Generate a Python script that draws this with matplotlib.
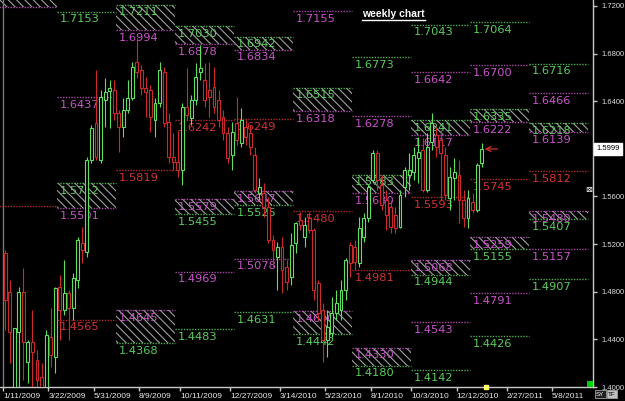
import matplotlib
matplotlib.use("Agg")
import matplotlib.pyplot as plt
from matplotlib.patches import Rectangle
from matplotlib.lines import Line2D

# ---------------- data ----------------
opens = [1.5125,1.4797,1.3932,1.4461,1.4797,1.4209,1.4377,1.4226,1.4083,1.3949,
         1.4419,1.4251,1.4839,1.4646,1.4789,1.4663,1.4898,1.5209,1.5133,1.5906,
         1.6217,1.5906,1.6410,1.6486,1.6494,1.6301,1.6183,1.6326,1.6427,1.6729,
         1.6662,1.6511,1.6494,1.6242,1.6385,1.6645,1.6225,1.5931,1.5889,1.5822,
         1.6351,1.6259,1.6410,1.6645,1.6578,1.6494,1.6519,1.6410,1.6267,1.6133,
         1.5948,1.6217,1.6049,1.6183,1.6133,1.5948,1.5629,1.5629,1.5511,1.5234,
         1.5091,1.5175,1.5007,1.4923,1.5209,1.5402,1.5259,1.5419,1.5318,1.4872,
         1.4646,1.4394,1.4453,1.4621,1.4646,1.4814,1.5192,1.5175,1.5041,1.5259,
         1.5419,1.5738,1.5965,1.5696,1.5570,1.5511,1.5444,1.5343,1.5679,1.5780,
         1.5805,1.5923,1.5990,1.5654,1.6057,1.6116,1.6074,1.5948,1.5587,1.5755,
         1.5780,1.5570,1.5419,1.5553,1.5486,1.5881]
highs = [1.5150,1.4898,1.4495,1.4839,1.4999,1.4394,1.4646,1.4310,1.4201,1.4478,
         1.4663,1.4839,1.4940,1.5066,1.4814,1.4957,1.5259,1.5343,1.5931,1.6200,
         1.6662,1.6494,1.6595,1.6578,1.6578,1.6326,1.6427,1.6578,1.6729,1.6931,
         1.6704,1.6603,1.6536,1.6427,1.6729,1.6687,1.6301,1.6133,1.6158,1.6385,
         1.6679,1.6452,1.6721,1.6872,1.6721,1.6729,1.6687,1.6494,1.6326,1.6183,
         1.6225,1.6435,1.6343,1.6242,1.6200,1.6015,1.5755,1.5713,1.5595,1.5276,
         1.5217,1.5259,1.5066,1.5293,1.5385,1.5469,1.5427,1.5469,1.5335,1.4898,
         1.4705,1.4646,1.4755,1.4814,1.4898,1.5083,1.5217,1.5234,1.5427,1.5461,
         1.5696,1.5990,1.5990,1.5780,1.5654,1.5570,1.5511,1.5654,1.5847,1.5965,
         1.6015,1.6099,1.6091,1.6133,1.6301,1.6183,1.6158,1.6015,1.5847,1.5923,
         1.5906,1.5654,1.5654,1.5629,1.5881,1.6049]
lows = [1.4478,1.4201,1.3848,1.3974,1.4058,1.4033,1.3999,1.3949,1.3890,1.3907,
        1.4167,1.4117,1.4394,1.4604,1.4394,1.4562,1.4831,1.5041,1.5091,1.5881,
        1.5906,1.5881,1.6183,1.6175,1.6242,1.5973,1.6099,1.6301,1.6410,1.6595,
        1.6452,1.6267,1.6141,1.6099,1.6351,1.6183,1.5881,1.5822,1.5763,1.5696,
        1.6242,1.6200,1.6368,1.6578,1.6351,1.6267,1.6301,1.6183,1.6074,1.5881,
        1.5822,1.6032,1.6015,1.6032,1.5948,1.5629,1.5570,1.5427,1.5209,1.5007,
        1.4814,1.4789,1.4814,1.4856,1.5125,1.5318,1.5175,1.5293,1.4730,1.4562,
        1.4209,1.4251,1.4419,1.4562,1.4562,1.4730,1.4923,1.4982,1.5007,1.5217,
        1.5385,1.5713,1.5654,1.5486,1.5318,1.5293,1.5293,1.5335,1.5595,1.5654,
        1.5738,1.5713,1.5637,1.5637,1.5990,1.5931,1.5570,1.5570,1.5486,1.5570,
        1.5377,1.5343,1.5335,1.5461,1.5469,1.5847]
closes = [1.4730,1.4461,1.4495,1.4797,1.4377,1.4377,1.4293,1.4058,1.3974,1.4436,
          1.4268,1.4831,1.4646,1.4789,1.4663,1.4915,1.5234,1.5150,1.5906,1.6175,
          1.5931,1.6435,1.6477,1.6511,1.6301,1.6183,1.6326,1.6427,1.6687,1.6645,
          1.6511,1.6477,1.6267,1.6385,1.6662,1.6217,1.5931,1.5889,1.5822,1.6351,
          1.6284,1.6410,1.6603,1.6679,1.6410,1.6435,1.6351,1.6242,1.6133,1.5923,
          1.6141,1.6074,1.6242,1.6099,1.6015,1.5654,1.5679,1.5511,1.5234,1.5150,
          1.5175,1.4982,1.4881,1.5192,1.5377,1.5360,1.5360,1.5318,1.4814,1.4621,
          1.4394,1.4503,1.4621,1.4705,1.4814,1.5066,1.5041,1.5049,1.5335,1.5419,
          1.5679,1.5965,1.5738,1.5528,1.5444,1.5343,1.5335,1.5612,1.5822,1.5822,
          1.5948,1.5973,1.5654,1.6015,1.6217,1.6015,1.5965,1.5612,1.5763,1.5805,
          1.5570,1.5419,1.5587,1.5486,1.5864,1.5999]

# date axis (weeks after 1/11/2009)
tick_labels = ["1/11/2009", "3/22/2009", "5/31/2009", "8/9/2009", "10/11/2009",
               "12/27/2009", "3/14/2010", "5/23/2010", "8/1/2010", "10/3/2010",
               "12/12/2010", "2/27/2011", "5/8/2011"]
tick_weeks = [0, 10, 20, 30, 39, 50, 61, 71, 81, 90, 100, 111, 121]
price_ticks = [1.40, 1.44, 1.48, 1.52, 1.56, 1.60, 1.64, 1.68, 1.72]

# quarterly pivot levels
quarter_starts = [-1, 12, 25, 38, 51, 64, 77, 90, 103, 116, 129]
green_levels = [[1.7330], [1.7153, 1.5712], [1.7211, 1.4368],
                [1.7030, 1.5455, 1.4483], [1.6942, 1.5525, 1.4631],
                [1.6515, 1.4442], [1.6773, 1.5783, 1.4180],
                [1.7043, 1.6241, 1.4944, 1.4142], [1.7064, 1.6335, 1.5155, 1.4426],
                [1.6716, 1.6218, 1.5407, 1.4907]]
magenta_levels = [[1.7190], [1.6437, 1.5501], [1.6994, 1.4645],
                  [1.6878, 1.5579, 1.4969], [1.6834, 1.5647, 1.5078],
                  [1.7155, 1.6318, 1.4640], [1.6278, 1.5630, 1.4330],
                  [1.6642, 1.6117, 1.5068, 1.4543], [1.6700, 1.6222, 1.5259, 1.4791],
                  [1.6466, 1.6139, 1.5480, 1.5157]]
red_levels = [1.5520, 1.4565, 1.5819, 1.6242, 1.6249, 1.5480, 1.4981, 1.5593, 1.5745, 1.5812]
hatched_zones = [(0, 1.7330, 1.7190), (1, 1.5712, 1.5501), (2, 1.7211, 1.6994),
                 (2, 1.4645, 1.4368), (3, 1.7030, 1.6878), (3, 1.5579, 1.5455),
                 (4, 1.6942, 1.6834), (4, 1.5647, 1.5525), (5, 1.6515, 1.6318),
                 (5, 1.4640, 1.4442), (6, 1.5783, 1.5630), (6, 1.4330, 1.4180),
                 (7, 1.6241, 1.6117), (7, 1.5068, 1.4944), (8, 1.6335, 1.6222),
                 (8, 1.5259, 1.5155), (9, 1.6218, 1.6139), (9, 1.5480, 1.5407)]

# ---------------- drawing ----------------
W, H = 625, 401
plt.rcParams['hatch.linewidth'] = 0.8
plt.rcParams['hatch.color'] = '#a0a0a0'

GREEN = '#5ccc5c'
MAG = '#c855c8'
RED = '#d03434'
UP = '#5ee05e'
DN = '#cc2a2a'

fig = plt.figure(figsize=(W / 100, H / 100), dpi=100, facecolor='black')
ax = fig.add_axes([0, 14 / H, 593 / W, 387 / H], facecolor='black')
ax.set_xlim(-0.66, 130.04)
ax.set_ylim(1.400, 1.725)

# hatched zones
for q, top, bot in hatched_zones:
    ax.add_patch(Rectangle((quarter_starts[q], bot), quarter_starts[q + 1] - quarter_starts[q],
                           top - bot, fill=False, hatch='\\\\\\\\', edgecolor='#a0a0a0',
                           lw=0, zorder=1))

# level lines + labels
xmin = ax.get_xlim()[0]
for q in range(len(red_levels)):
    x0, x1 = quarter_starts[q], quarter_starts[q + 1]
    for col, vals in ((GREEN, green_levels[q]), (MAG, magenta_levels[q]), (RED, [red_levels[q]])):
        for v in vals:
            ax.plot([x0, x1], [v, v], color=col, lw=1.0, ls=(0, (1, 1)), alpha=0.85, zorder=2)
            if x0 >= xmin:
                t = ax.annotate(f"{v:.4f}", xy=(x0, v), xytext=(1.5, -2.0),
                                textcoords='offset points', ha='left', va='top',
                                color=col, fontsize=8.2, zorder=2)
                t.set_clip_on(True)

# left marker line at first date tick
ax.axvline(tick_weeks[0], color='#7a7a7a', lw=1, zorder=1)

# candles
xs = [i + 0.5 for i in range(len(closes))]
for x, o, h, l, c in zip(xs, opens, highs, lows, closes):
    col = UP if c >= o else DN
    top, bot = max(o, c), min(o, c)
    ax.vlines(x, top, h, color=col, lw=0.8, zorder=4)
    ax.vlines(x, l, bot, color=col, lw=0.8, zorder=4)
    ax.add_patch(Rectangle((x - 0.32, bot), 0.64, max(top - bot, 0.0003),
                           facecolor='black', edgecolor=col, lw=0.8, zorder=4))

# arrow to last candle
ax.annotate('', xy=(xs[-1] + 0.7, closes[-1]), xytext=(xs[-1] + 3.5, closes[-1]),
            arrowprops=dict(arrowstyle='->,head_length=0.35,head_width=0.18',
                            color=RED, lw=0.9, shrinkA=0, shrinkB=0), zorder=6)

# axes styling
for s in ('top', 'left'):
    ax.spines[s].set_visible(False)
for s in ('bottom', 'right'):
    ax.spines[s].set_color('#c8c8c8')
    ax.spines[s].set_linewidth(1)

ax.set_xticks(tick_weeks)
ax.set_xticklabels(tick_labels, ha='left', fontsize=6, family='Liberation Sans')
ax.tick_params(axis='x', colors='#c8c8c8', labelcolor='#e6e6e6', length=3, width=1, pad=1)

# price scale on the right; the level under the current-price box is hidden by it
ax.yaxis.tick_right()
ax.set_yticks(price_ticks)
ax.set_yticklabels(["" if abs(v - closes[-1]) < 0.01 else f"{v:.4f}" for v in price_ticks],
                   fontsize=5.5, family='Liberation Sans')
ax.tick_params(axis='y', colors='#c8c8c8', labelcolor='#dcdcdc', length=3, width=1, pad=3)

# current price box
ax.annotate(f"{closes[-1]:.4f}", xy=(1.0, closes[-1]), xycoords=('axes fraction', 'data'),
            xytext=(2.5, 0), textcoords='offset points', ha='left', va='center',
            fontsize=5.5, family='Liberation Sans', color='black',
            bbox=dict(boxstyle='square,pad=0.3', fc='white', ec='white'),
            annotation_clip=False, zorder=10)

# current bar marker on time axis and corner square
ax.plot([len(closes) + 0.5], [ax.get_ylim()[0]], marker='s', ms=2.5, color='#ffff66',
        clip_on=False, zorder=7)
ax.add_patch(Rectangle((1 - 6 / 593, 0), 6 / 593, 6 / 387, transform=ax.transAxes,
                       fc='#00d000', ec='none', zorder=6, clip_on=False))

# title
title = fig.text(362 / W, 1 - 14 / H, 'weekly chart', color='white', fontsize=7.5,
                 fontweight='bold', family='Liberation Sans', ha='left', va='center')
fig.canvas.draw()
bb = title.get_window_extent()
fig.add_artist(Line2D([bb.x0 / W, bb.x1 / W], [(bb.y0 - 0.5) / H, (bb.y0 - 0.5) / H],
                      transform=fig.transFigure, color='white', lw=1))

# small widgets
fig.text(589 / W, 1 - 190 / H, '\u22a0', color='white', fontsize=6, ha='center', va='center')
fig.text(596 / W, 1 - 394 / H, 'SY', color='white', fontsize=4.5, ha='left', va='center',
         family='Liberation Sans', bbox=dict(boxstyle='square,pad=0.2', fc='#202020', ec='#a0a0a0', lw=0.6))
fig.text(608 / W, 1 - 394 / H, 'TF', color='black', fontsize=4.5, ha='left', va='center',
         family='Liberation Sans', bbox=dict(boxstyle='square,pad=0.2', fc='#c0c0c0', ec='#a0a0a0', lw=0.6))

fig.savefig('out.png', dpi=100, facecolor='black')
